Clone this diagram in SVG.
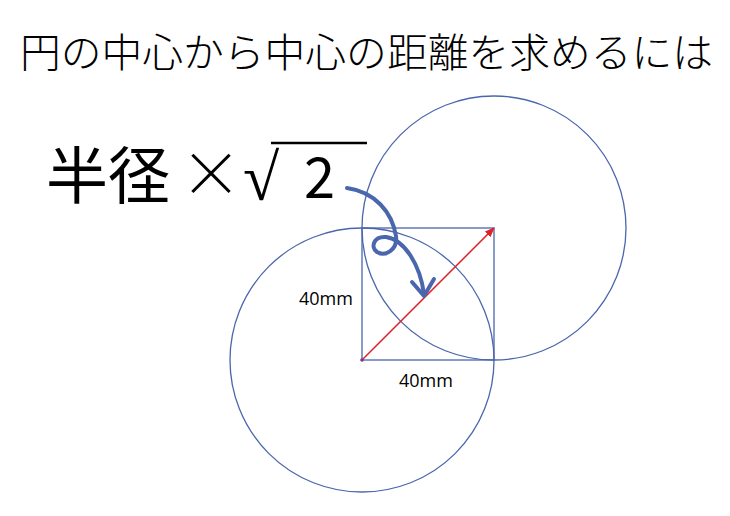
<svg xmlns="http://www.w3.org/2000/svg" width="730" height="516" viewBox="0 0 730 516">
<style>
.t{font-family:"Noto Sans CJK JP","Noto Sans",sans-serif;fill:#000;font-weight:300}
.f{font-family:"Noto Sans CJK JP","Noto Sans",sans-serif;fill:#000;font-weight:400}
.s{fill:none;stroke:#4a66ad;stroke-width:1.3}
.lab{font-family:"Open Sans","Noto Sans",sans-serif;font-size:18px;fill:#000}
</style>
<defs>
<marker id="ar" markerWidth="10" markerHeight="8" refX="9" refY="4" orient="auto" markerUnits="userSpaceOnUse">
<path d="M0,0 L10,4 L0,8 Z" fill="#e0202a"/>
</marker>
</defs>
<rect width="730" height="516" fill="#fff"/>
<g id="title"><text class="t" x="20" y="67" font-size="40" textLength="693" lengthAdjust="spacingAndGlyphs">円の中心から中心の距離を求めるには</text></g>
<g id="formula">
<text class="f" x="46" y="199" font-size="62">半径</text>
<text class="t" x="180" y="197" font-size="62">×</text>
<text x="243" y="200" font-size="66" font-family="DejaVu Sans" font-weight="200" fill="#000">√</text>
<line x1="271" y1="143" x2="367" y2="143" stroke="#000" stroke-width="2.5"/>
<text class="f" x="304" y="198" font-size="56">2</text>
</g>
<g id="circle1"><circle class="s" cx="362" cy="360" r="132"/></g>
<g id="circle2"><circle class="s" cx="494" cy="228" r="132"/></g>
<g id="square"><rect class="s" x="362" y="228" width="132" height="132"/></g>
<g id="labels">
<text class="lab" x="299" y="305">40mm</text>
<text class="lab" x="399" y="387">40mm</text>
</g>
<g id="connectors">
<line x1="362" y1="360" x2="494" y2="228" stroke="#e0202a" stroke-width="1.5" marker-end="url(#ar)"/>
<circle cx="362" cy="360" r="1.8" fill="#7a3a8a"/>
<path d="M347,188 C375,192 392,212 396,236 C398,250 385,257 377,252 C370,247 374,236 386,237 C405,240 420,265 424,294" fill="none" stroke="#4a66ad" stroke-width="4" stroke-linecap="round"/>
<path d="M412,282 L424,296 L434,279" fill="none" stroke="#4a66ad" stroke-width="4" stroke-linecap="round" stroke-linejoin="round"/>
</g>
</svg>
